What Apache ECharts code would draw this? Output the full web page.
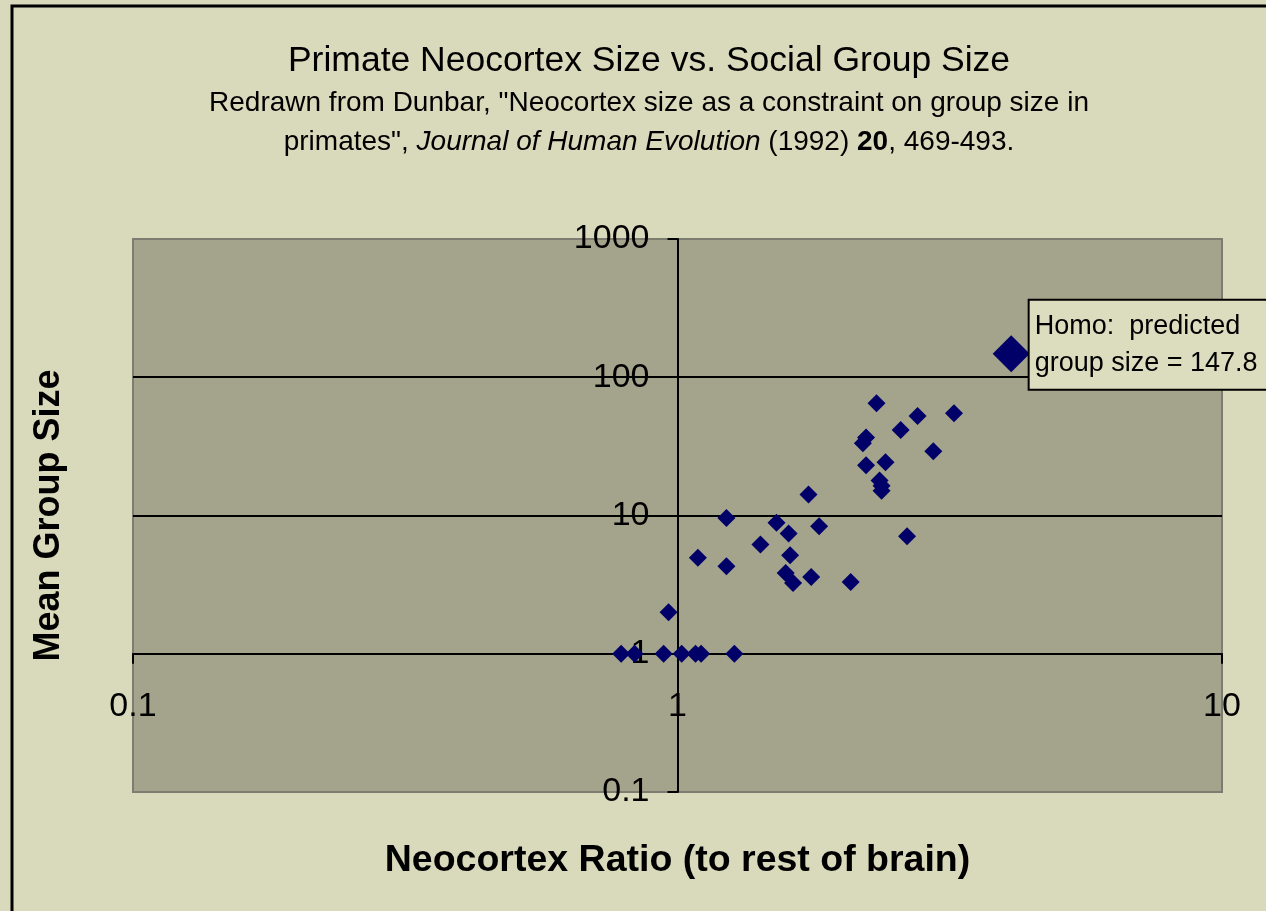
<!DOCTYPE html>
<html>
<head>
<meta charset="utf-8">
<script src="https://cdn.jsdelivr.net/npm/echarts@6/dist/echarts.min.js"></script>
<style>
  html, body { margin: 0; padding: 0; background: #d9d9bb; }
  #chart { width: 1266px; height: 911px; }
</style>
</head>
<body>
<div id="chart"></div>
<script>
// Neocortex ratio (x) vs mean group size (y)
const neocortexRatio = [
  2.32, 2.76, 3.22, 2.57, 2.22, 2.19, 2.95, 2.22, 2.41, 2.35, 2.37, 2.37,
  1.74, 1.23, 1.52, 1.60, 1.82, 2.64, 1.42, 1.09, 1.61, 1.23, 1.58, 1.63,
  1.76, 2.08, 0.963, 0.788, 0.834, 0.943, 1.018, 1.079, 1.105, 1.272
];
const groupSize = [
  64.8, 52.5, 54.8, 41.5, 36.6, 33.3, 29.2, 23.1, 24.3, 17.9, 16.4, 15.1,
  14.2, 9.6, 8.85, 7.41, 8.36, 7.08, 6.16, 4.94, 5.16, 4.29, 3.84, 3.25,
  3.59, 3.31, 2.0, 1, 1, 1, 1, 1, 1, 1
];
const homoRatio = [4.1];
const homoGroup = [147.8];

const FONT = '"Liberation Sans", Arial, sans-serif';
const BG = '#d9d9bb';
const PLOT_BG = '#a4a38c';
const MARK = '#000068';

const chart = echarts.init(document.getElementById('chart'));

const fmt = v => String(+(+v).toPrecision(6));

chart.setOption({
  animation: false,
  backgroundColor: BG,
  textStyle: { fontFamily: FONT },
  graphic: [{
    type: 'rect',
    z: -1,
    shape: { x: 12, y: 6, width: 1400, height: 1000 },
    style: { fill: 'none', stroke: '#000', lineWidth: 3 },
  }],
  title: [
    {
      text: 'Primate Neocortex Size vs. Social Group Size',
      left: 644, top: 38, textAlign: 'center',
      textStyle: { fontFamily: FONT, fontSize: 35.5, fontWeight: 'normal', color: '#000' },
    },
    {
      text: '{n|Redrawn from Dunbar, "Neocortex size as a constraint on group size in}\n' +
            '{n|primates", }{i|Journal of Human Evolution}{n| (1992) }{b|20}{n|, 469-493.}',
      left: 644, top: 79, textAlign: 'center',
      textStyle: {
        fontFamily: FONT, fontSize: 28, fontWeight: 'normal', color: '#000', lineHeight: 39,
        rich: {
          n: { fontFamily: FONT, fontSize: 28, color: '#000', lineHeight: 39 },
          i: { fontFamily: FONT, fontSize: 28, color: '#000', fontStyle: 'italic', lineHeight: 39 },
          b: { fontFamily: FONT, fontSize: 28, color: '#000', fontWeight: 'bold', lineHeight: 39 },
        },
      },
    },
  ],
  grid: {
    left: 133, right: 44, top: 239, bottom: 119,
    show: true, backgroundColor: PLOT_BG, borderColor: '#7c7c70', borderWidth: 2,
  },
  xAxis: {
    type: 'log', logBase: 10, min: 0.1, max: 10,
    offset: -138.25,
    name: 'Neocortex Ratio (to rest of brain)',
    nameLocation: 'middle', nameGap: 188,
    nameTextStyle: { fontFamily: FONT, fontSize: 37.5, fontWeight: 'bold', color: '#000' },
    axisLine: { show: true, lineStyle: { color: '#000', width: 2 } },
    axisTick: { show: true, length: 10, lineStyle: { color: '#000', width: 2 } },
    minorTick: { show: false },
    splitLine: { show: false },
    axisLabel: { fontFamily: FONT, fontSize: 34, color: '#000', margin: 36, formatter: fmt },
  },
  yAxis: {
    type: 'log', logBase: 10, min: 0.1, max: 1000,
    offset: -544.5,
    name: 'Mean Group Size',
    nameLocation: 'middle', nameGap: 610, nameRotate: 90,
    nameTextStyle: { fontFamily: FONT, fontSize: 36, fontWeight: 'bold', color: '#000' },
    axisLine: { show: true, lineStyle: { color: '#000', width: 2 } },
    axisTick: { show: true, length: 10, lineStyle: { color: '#000', width: 2 } },
    minorTick: { show: false },
    splitLine: {
      show: true, showMinLine: false, showMaxLine: false,
      lineStyle: { color: '#000', width: 2 },
    },
    axisLabel: { fontFamily: FONT, fontSize: 34, color: '#000', margin: 28, formatter: fmt },
  },
  series: [
    {
      name: 'Primates', type: 'scatter',
      symbol: 'diamond', symbolSize: 18,
      itemStyle: { color: MARK, opacity: 1 },
      data: neocortexRatio.map((x, i) => [x, groupSize[i]]),
      z: 5,
    },
    {
      name: 'Homo', type: 'scatter',
      symbol: 'diamond', symbolSize: 37,
      itemStyle: { color: MARK, opacity: 1 },
      data: homoRatio.map((x, i) => [x, homoGroup[i]]),
      z: 5,
      label: {
        show: true, position: 'right', distance: 0, offset: [0, -9],
        formatter: 'Homo:  predicted\ngroup size = 147.8',
        fontFamily: FONT, fontSize: 27, color: '#000', opacity: 1, lineHeight: 37,
        backgroundColor: '#dcdcbf', borderColor: '#000', borderWidth: 2,
        padding: [6, 30, 8, 5],
      },
    },
  ],
});
</script>
</body>
</html>
